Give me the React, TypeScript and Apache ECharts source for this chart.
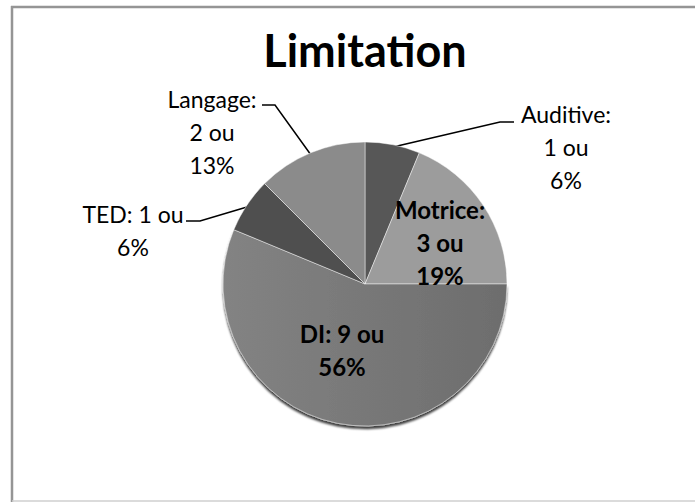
import React, { useEffect, useRef } from "react";
import * as echarts from "echarts";

const titleText = "Limitation";
const categories = ["Auditive", "Motrice", "DI", "TED", "Langage"];
const counts = [1, 3, 9, 1, 2];
const percents = [6, 19, 56, 6, 13];
const sliceColors = ["#575757", "#9c9c9c", "#797979", "#4f4f4f", "#8b8b8b"];
const boldLabels = [false, true, true, false, false];
const breakAfterName = [true, true, false, false, true];

// label placement (layout only)
const labelPos: { x: number; y: number; line?: number[][] }[] = [
  { x: 566, y: 97, line: [[393, 147], [500, 122], [514, 122]] },
  { x: 440, y: 193 },
  { x: 342, y: 317 },
  { x: 133, y: 197, line: [[247, 207], [200, 221], [186, 221]] },
  { x: 212, y: 82, line: [[311, 155], [275, 105], [262, 105]] },
];

export default function App() {
  const ref = useRef<HTMLDivElement>(null);
  useEffect(() => {
    if (!ref.current) return;
    const chart = echarts.init(ref.current, null, { renderer: "svg" });
    const data = categories.map((name, i) => ({
      name,
      value: counts[i],
      itemStyle:
        i === 2
          ? {
              color: new echarts.graphic.LinearGradient(0, 0, 1, 0, [
                { offset: 0, color: "#838383" },
                { offset: 1, color: "#6d6d6d" },
              ]),
              shadowColor: "rgba(0,0,0,0.75)",
              shadowBlur: 2,
              shadowOffsetY: 3,
            }
          : { color: sliceColors[i] },
      label: {
        fontWeight: boldLabels[i] ? "bold" : "normal",
        fontSize: boldLabels[i] ? 24 : 23,
      },
      labelLine: { show: !!labelPos[i].line },
    }));
    chart.setOption({
      animation: false,
      backgroundColor: "#ffffff",
      title: {
        text: titleText,
        left: 360,
        top: 22,
        textAlign: "center",
        textStyle: {
          fontFamily: "Lato",
          fontSize: 45,
          fontWeight: "bold",
          color: "#000",
        },
      },
      graphic: [
        {
          type: "line",
          z: -1,
          shape: { x1: 11, y1: 7, x2: 695, y2: 7 },
          style: { stroke: "#959595", lineWidth: 2.5 },
        },
        {
          type: "line",
          z: -1,
          shape: { x1: 12, y1: 6, x2: 12, y2: 502 },
          style: { stroke: "#959595", lineWidth: 2.5 },
        },
        {
          type: "line",
          z: -1,
          shape: { x1: 12, y1: 501, x2: 695, y2: 501 },
          style: { stroke: "#cfcfcf", lineWidth: 1.5 },
        },
      ],
      series: [
        {
          type: "pie",
          center: [365, 284],
          radius: 142,
          startAngle: 90,
          clockwise: true,
          data,
          itemStyle: {
            borderColor: "rgba(255,255,255,0.45)",
            borderWidth: 1,
          },
          label: {
            show: true,
            position: "outside",
            fontFamily: "Lato",
            fontSize: 23,
            lineHeight: 33,
            color: "#000",
            formatter: (p: any) => {
              const i = p.dataIndex;
              return (
                categories[i] +
                ":" +
                (breakAfterName[i] ? "\n" : " ") +
                counts[i] +
                " ou\n" +
                percents[i] +
                "%"
              );
            },
          },
          labelLine: {
            show: true,
            smooth: false,
            lineStyle: { color: "#000", width: 1.5 },
          },
          labelLayout: (params: any) => {
            const p = labelPos[params.dataIndex];
            const res: any = {
              x: p.x,
              y: p.y,
              align: "center",
              verticalAlign: "top",
            };
            if (p.line) res.labelLinePoints = p.line;
            return res;
          },
          emphasis: { disabled: true },
        },
      ],
    });
    return () => chart.dispose();
  }, []);
  return (
    <div
      ref={ref}
      style={{ position: "fixed", left: 0, top: 0, width: 695, height: 502 }}
    />
  );
}
